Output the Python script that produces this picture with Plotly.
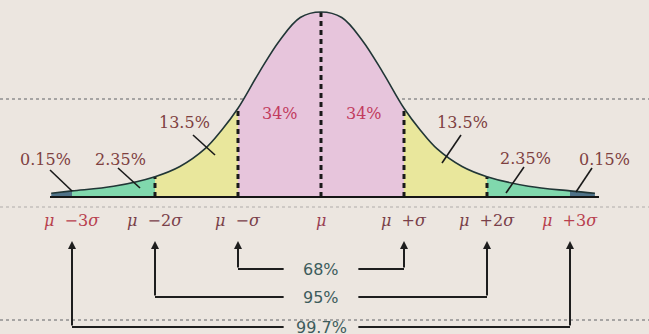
import plotly.graph_objects as go

# ----- data -----
# curve heights (share of the peak) at positions in sigma units
curve_z = [-3.25, -3.0, -2.5, -2.0, -1.7, -1.4, -1.2, -1.0, -0.75, -0.5, -0.25, 0.0,
           0.25, 0.5, 0.75, 1.0, 1.2, 1.4, 1.7, 2.0, 2.5, 3.0, 3.3]
curve_h = [0.02, 0.033, 0.058, 0.11, 0.165, 0.26, 0.36, 0.48, 0.67, 0.845, 0.97, 1.0,
           0.97, 0.845, 0.67, 0.48, 0.36, 0.26, 0.165, 0.11, 0.058, 0.033, 0.02]

# shaded bands: (from, to, colour)
band_from = [-3.25, -3.0, -2.0, -1.0, 1.0, 2.0, 3.0]
band_to = [-3.0, -2.0, -1.0, 1.0, 2.0, 3.0, 3.3]
band_col = ["#4f7288", "#80d8ad", "#e9e79c", "#e7c5dc", "#e9e79c", "#80d8ad", "#4f7288"]

pct_labels = ["0.15%", "2.35%", "13.5%", "34%", "34%", "13.5%", "2.35%", "0.15%"]
pct_z = [-3.32, -2.42, -1.65, -0.49, 0.52, 1.70, 2.46, 3.42]
pct_y = [0.205, 0.205, 0.405, 0.45, 0.45, 0.405, 0.21, 0.205]

tick_z = [-3, -2, -1, 0, 1, 2, 3]
tick_text = ["<i>μ</i>  −3<i>σ</i>", "<i>μ</i>  −2<i>σ</i>", "<i>μ</i>  −<i>σ</i>", "<i>μ</i>",
             "<i>μ</i>  +<i>σ</i>", "<i>μ</i>  +2<i>σ</i>", "<i>μ</i>  +3<i>σ</i>"]
tick_col = ["#b8404e", "#7a3f4a", "#7a3f4a", "#9a3f55", "#7a3f4a", "#7a3f4a", "#b8404e"]

ranges = ["68%", "95%", "99.7%"]
range_k = [1, 2, 3]

# pixel -> data helpers (chart is 649x334, mean at px 321, sigma 83px, baseline px 197, peak 185px)
def zx(px):
    return (px - 321) / 83.0

def yy(py):
    return (197 - py) / 185.0


fig = go.Figure()

# shaded areas
for a, b, c in zip(band_from, band_to, band_col):
    zs = [z for z in curve_z if a <= z <= b]
    hs = [h for z, h in zip(curve_z, curve_h) if a <= z <= b]
    fig.add_trace(go.Scatter(x=zs, y=hs, mode="lines", fill="tozeroy", fillcolor=c,
                             line=dict(color=c, width=0, shape="spline"), hoverinfo="skip"))

# dashed verticals at -2..2 sigma
for z in [-2, -1, 0, 1, 2]:
    h = curve_h[curve_z.index(float(z))]
    fig.add_trace(go.Scatter(x=[z, z], y=[0, h], mode="lines",
                             line=dict(color="#1a1a1a", width=3, dash="5px,4px"), hoverinfo="skip"))

# bell curve outline
fig.add_trace(go.Scatter(x=curve_z, y=curve_h, mode="lines",
                         line=dict(color="#213636", width=1.6, shape="spline"), hoverinfo="skip"))

# baseline
fig.add_trace(go.Scatter(x=[zx(50), zx(599)], y=[0, 0], mode="lines",
                         line=dict(color="#151515", width=2), hoverinfo="skip"))

shapes = []
# dotted grid lines from the photographed screen
for py, col in [(99, "#8f8f8f"), (207, "#c4c0bc"), (320, "#8f8f8f")]:
    shapes.append(dict(type="line", xref="paper", x0=0, x1=1, y0=yy(py), y1=yy(py),
                       layer="below", line=dict(color=col, width=1.5, dash="dot")))

# leader lines for the percentage labels
leaders = [(50, 170, 72, 191), (118, 168, 140, 188), (193, 135, 215, 155),
           (461, 135, 442, 163), (524, 167, 506, 193), (592, 168, 576, 192)]
for x0, y0, x1, y1 in leaders:
    shapes.append(dict(type="line", x0=zx(x0), y0=yy(y0), x1=zx(x1), y1=yy(y1),
                       line=dict(color="#1a1a1a", width=1.6)))

annotations = []
for t, z, y in zip(pct_labels, pct_z, pct_y):
    col = "#c23b5e" if t == "34%" else "#7e4040"
    annotations.append(dict(x=z, y=y, text=t, showarrow=False,
                            font=dict(family="DejaVu Serif", size=16, color=col)))

for t, z, c in zip(tick_text, tick_z, tick_col):
    annotations.append(dict(x=z, y=yy(220), text=t, showarrow=False,
                            font=dict(family="DejaVu Serif", size=16, color=c)))

# range brackets
gap = 0.45
for lab, k, py in zip(ranges, range_k, [269, 297, 327]):
    yl = yy(py)
    for s in (-1, 1):
        shapes.append(dict(type="line", x0=s * k, x1=s * gap, y0=yl, y1=yl,
                           line=dict(color="#1e1e1e", width=2)))
        annotations.append(dict(x=s * k, y=yy(241), ax=s * k, ay=yl, xref="x", yref="y",
                                axref="x", ayref="y", text="", showarrow=True,
                                arrowhead=2, arrowsize=0.8, arrowwidth=2, arrowcolor="#1e1e1e"))
    annotations.append(dict(x=0, y=yl, text=lab, showarrow=False,
                            font=dict(family="DejaVu Sans", size=16, color="#3d5c5c")))

fig.update_layout(
    width=649, height=334,
    margin=dict(l=0, r=0, t=0, b=0),
    paper_bgcolor="#ece6e0",
    plot_bgcolor="#ece6e0",
    showlegend=False,
    xaxis=dict(range=[zx(0), zx(649)], visible=False, fixedrange=True),
    yaxis=dict(range=[yy(334), yy(0)], visible=False, fixedrange=True),
    shapes=shapes,
    annotations=annotations,
)

fig.write_html("out.html", config={"displayModeBar": False},
               post_script="document.body.style.margin='0';document.body.style.overflow='hidden';")
